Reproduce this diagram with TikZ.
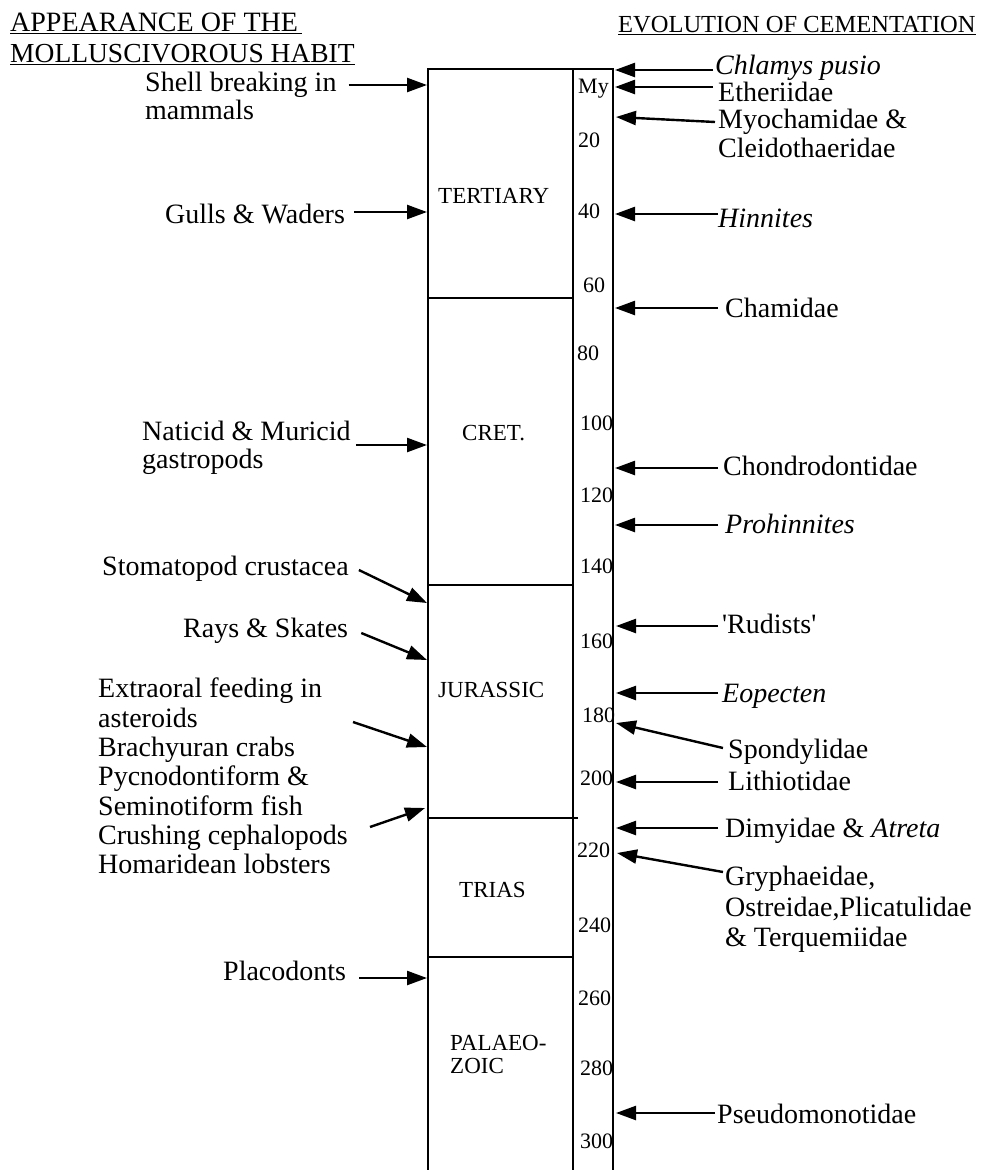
\documentclass[tikz,border=0pt]{standalone}
\usepackage{fontspec}
\setmainfont{Liberation Serif}
\usetikzlibrary{arrows.meta}

\tikzset{
  every node/.style={inner sep=0pt},
  head/.style={anchor=base west},
  uline/.style={line width=1.6pt},
  habit/.style={font=\fontsize{28}{29.3}\selectfont, anchor=base west},
  taxon/.style={font=\fontsize{28}{30}\selectfont, anchor=base west},
  period/.style={font=\fontsize{23}{24}\selectfont, anchor=base west},
  myr/.style={font=\fontsize{22}{23}\selectfont, anchor=base west},
  col/.style={line width=2.6pt},
  bound/.style={line width=2pt},
  arr/.style={line width=2.4pt, -{Triangle[length=20pt,width=14pt]}},
}

\begin{document}
\begin{tikzpicture}[x=1pt,y=-1pt]
\useasboundingbox (0,0) rectangle (983,1170);

% titles
\node[head, font=\fontsize{28}{31}\selectfont] (hab1) at (10,31) {APPEARANCE OF THE};
\node[head, font=\fontsize{27.5}{31}\selectfont] (hab2) at (10,62) {MOLLUSCIVOROUS HABIT};
\node[head, font=\fontsize{24.5}{28}\selectfont] (cem) at (618,32) {EVOLUTION OF CEMENTATION};
\draw[uline] ([yshift=-2.5pt]hab1.base west) -- ([yshift=-2.5pt,xshift=4pt]hab1.base east);
\draw[uline] ([yshift=-2.5pt]hab2.base west) -- ([yshift=-2.5pt]hab2.base east);
\draw[uline] ([yshift=-2.5pt]cem.base west) -- ([yshift=-2.5pt]cem.base east);

% time column
\draw[col] (428,1170) -- (428,69) -- (613,69) -- (613,1170);
\draw[col] (573,69) -- (573,1170);
\draw[bound] (428,298) -- (573,298);
\draw[bound] (428,585) -- (573,585);
\draw[bound] (428,818) -- (578,818);
\draw[bound] (428,957) -- (573,957);

\node[period] (tert) at (438,203) {TERTIARY};
\node[period] (cret) at (462,440) {CRET.};
\node[period] (jur) at (438,697) {JURASSIC};
\node[period] (trias) at (459,897) {TRIAS};
\node[period] (pal1) at (450,1050) {PALAEO-};
\node[period] (pal2) at (450,1073) {ZOIC};

% million years
\node[myr] (my) at (578,93) {My};
\foreach \v/\x/\y in {20/578/147, 40/578/218, 60/583/292, 80/577/360,
    100/580/430, 120/580/502, 140/580/573, 160/580/648, 180/582/722,
    200/580/785, 220/577/857, 240/578/932, 260/578/1005, 280/580/1075,
    300/580/1148}
  \node[myr] (m\v) at (\x,\y) {\v};

% molluscivores (left)
\foreach \n/\y in {shell/85, gulls/212, natic/445, stom/603, rays/660,
    extra/747, placo/978}
  \coordinate (l-\n) at (427,\y);
\coordinate (l-crush) at (425,808);

\node[habit] (shell) at (145,91) {Shell breaking in};
\node[habit] (shell2) at ([yshift=-28pt]shell.base west) {mammals};
\node[habit] (gulls) at (165,223) {Gulls \& Waders};
\node[habit] (natic) at (142,440) {Naticid \& Muricid};
\node[habit] (natic2) at ([yshift=-28pt]natic.base west) {gastropods};
\node[habit] (stom) at (102,575) {Stomatopod crustacea};
\node[habit] (rays) at (183,637) {Rays \& Skates};
\node[habit, anchor=north west, align=left] (extra) at (98,678)
  {Extraoral feeding in\\asteroids\\Brachyuran crabs\\Pycnodontiform \&\\
   Seminotiform fish\\Crushing cephalopods\\Homaridean lobsters};
\node[habit] (placo) at (223,980) {Placodonts};
\coordinate (extra-a) at (353,722);
\coordinate (extra-b) at (370,827);

\draw[arr] ([xshift=12pt,yshift=6pt]shell.base east) -- (l-shell);
\draw[arr] ([xshift=9pt,yshift=11pt]gulls.base east) -- (l-gulls);
\draw[arr] ([xshift=5pt,yshift=-5pt]natic.base east) -- (l-natic);
\draw[arr] ([xshift=10pt,yshift=5pt]stom.base east) -- (l-stom);
\draw[arr] ([xshift=13pt,yshift=4pt]rays.base east) -- (l-rays);
\draw[arr] (extra-a) -- (l-extra);
\draw[arr] (extra-b) -- (l-crush);
\draw[arr] ([xshift=13pt,yshift=2pt]placo.base east) -- (l-placo);

% cementing bivalves (right)
\foreach \n/\x/\y in {chla/615/70, ether/615/87, myo/616/117, hinn/615/214,
    cham/615/308, chon/615/468, proh/615/525, rud/616/626, eop/616/693,
    spon/616/723, lith/616/782, dimy/616/828, gryph/617/853, pseu/616/1113}
  \coordinate (r-\n) at (\x,\y);

\node[taxon] (chla) at (715,74) {\textit{Chlamys pusio}};
\node[taxon] (ether) at (718,101) {Etheriidae};
\node[taxon] (myo) at (718,128) {Myochamidae \&};
\node[taxon] (myo2) at ([yshift=-29pt]myo.base west) {Cleidothaeridae};
\node[taxon] (hinn) at (718,227) {\textit{Hinnites}};
\node[taxon] (cham) at (725,317) {Chamidae};
\node[taxon] (chon) at (723,475) {Chondrodontidae};
\node[taxon] (proh) at (725,533) {\textit{Prohinnites}};
\node[taxon] (rud) at (722,633) {\textquotesingle Rudists\textquotesingle};
\node[taxon] (eop) at (722,702) {\textit{Eopecten}};
\node[taxon] (spon) at (728,758) {Spondylidae};
\node[taxon] (lith) at (728,790) {Lithiotidae};
\node[taxon] (dimy) at (725,837) {Dimyidae \& \textit{Atreta}};
\node[taxon] (gryph) at (725,885) {Gryphaeidae,};
\node[taxon] (gryph2) at ([yshift=-31pt]gryph.base west) {Ostreidae,Plicatulidae};
\node[taxon] (gryph3) at ([yshift=-30pt]gryph2.base west) {\& Terquemiidae};
\node[taxon] (pseu) at (717,1123) {Pseudomonotidae};

\draw[arr] ([xshift=-2pt,yshift=4pt]chla.base west) -- (r-chla);
\draw[arr] ([xshift=-5pt,yshift=14pt]ether.base west) -- (r-ether);
\draw[arr] ([xshift=-3pt,yshift=6pt]myo.base west) -- (r-myo);
\draw[arr] ([yshift=13pt]hinn.base west) -- (r-hinn);
\draw[arr] ([xshift=-7pt,yshift=9pt]cham.base west) -- (r-cham);
\draw[arr] ([xshift=-5pt,yshift=7pt]chon.base west) -- (r-chon);
\draw[arr] ([xshift=-7pt,yshift=8pt]proh.base west) -- (r-proh);
\draw[arr] ([xshift=-4pt,yshift=7pt]rud.base west) -- (r-rud);
\draw[arr] ([xshift=-4pt,yshift=9pt]eop.base west) -- (r-eop);
\draw[arr] ([xshift=-5pt,yshift=10pt]spon.base west) -- (r-spon);
\draw[arr] ([xshift=-10pt,yshift=8pt]lith.base west) -- (r-lith);
\draw[arr] ([xshift=-7pt,yshift=9pt]dimy.base west) -- (r-dimy);
\draw[arr] ([xshift=-2pt,yshift=13pt]gryph.base west) -- (r-gryph);
\draw[arr] ([xshift=-2pt,yshift=10pt]pseu.base west) -- (r-pseu);
\end{tikzpicture}
\end{document}
